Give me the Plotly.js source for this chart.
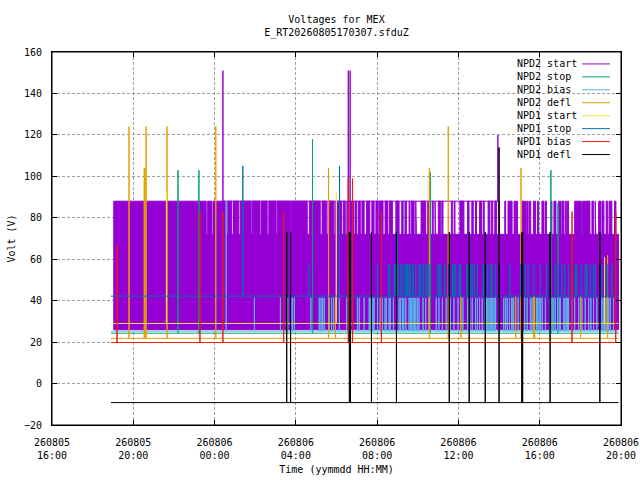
<!DOCTYPE html>
<html>
<head>
<meta charset="utf-8">
<script src="https://cdn.plot.ly/plotly-3.0.1.min.js"></script>
<style>
  html, body { margin: 0; padding: 0; background: #fff; }
  #plot { width: 640px; height: 480px; }
</style>
</head>
<body>
<div id="plot"></div>
<script>
// times are hours counted from 2026-08-05 00:00
var dataStart = 18.90;
var dataEnd = 43.88;

var seriesNames = ['NPD2 start', 'NPD2 stop', 'NPD2 bias', 'NPD2 defl',
                   'NPD1 start', 'NPD1 stop', 'NPD1 bias', 'NPD1 defl'];
var seriesColors = ['#9400d3', '#009e73', '#56b4e9', '#e69f00',
                    '#f0e442', '#0072b2', '#e51e10', '#000000'];

// NPD2 start: dense band, low 26, mostly up to 72, up to 88 in these intervals
var npd2StartBand = {start: 19.04, low: 26, mid: 72, high: 88};
var npd2StartHigh = [
  [19.04,23.59],[23.66,23.85],[23.92,24.57],[24.65,24.85],[24.93,25.19],[25.26,25.80],
  [25.85,26.24],[26.31,26.59],[26.67,27.03],[27.09,27.75],[27.79,28.56],[28.66,29.20],
  [29.29,29.50],[29.58,29.86],[29.92,30.05],[30.10,30.25],[30.33,30.43],[30.51,30.63],
  [30.69,30.84],[30.91,31.00],[31.08,31.17],[31.25,31.36],[31.48,31.64],[31.74,31.85],
  [31.94,32.05],[32.10,32.29],[32.39,32.51],[32.59,32.75],[32.92,33.08],[33.21,33.28],
  [33.37,33.44],[33.57,33.61],[33.68,33.82],[33.90,33.93],[34.16,34.39],[34.49,34.62],
  [34.71,34.76],[34.85,34.88],[35.01,35.11],[35.18,35.24],[35.65,35.70],[35.79,35.83],
  [36.07,36.27],[36.45,36.52],[36.66,36.73],[36.84,36.89],[37.04,37.14],[37.22,37.27],
  [37.46,37.53],[37.61,37.69],[37.79,37.88],[37.99,38.02],[38.28,38.32],[38.44,38.64],
  [38.74,38.81],[38.86,38.91],[39.13,39.30],[39.36,39.43],[39.49,39.56],[39.69,39.79],
  [39.89,39.95],[40.11,40.21],[40.28,40.33],[40.54,40.60],[40.70,40.80],[40.93,41.05],
  [41.10,41.19],[41.26,41.31],[41.36,41.42],[41.72,42.05],[42.11,42.24],[42.27,42.47],
  [42.57,42.64],[42.73,42.76],[42.90,42.99],[43.06,43.16],[43.27,43.35],[43.42,43.55],
  [43.68,43.75]
];
var npd2StartSpikes = [[24.41,151],[30.58,151],[30.67,151],[37.94,120]];

var npd2StopBase = 24.3;
var npd2StopSpikes = [[22.20,103],[23.23,103],[28.82,118],[34.61,102],[40.55,103],[40.90,87]];

var npd2BiasBase = 25.3;
var npd2BiasSpikes = [[24.57,88]];
var npd2BiasStepLevel = 41.4;
var npd2BiasSteps = [
  25.96,27.24,27.60,27.76,27.84,27.93,28.74,29.15,29.24,29.32,29.40,29.64,29.76,29.86,
  30.14,30.50,30.66,31.03,31.12,31.36,31.61,31.67,31.74,31.80,31.85,32.02,32.15,32.21,
  32.26,32.39,32.46,32.59,32.65,32.80,32.95,33.08,33.15,33.24,33.31,33.41,33.57,33.64,
  33.70,33.77,33.83,33.90,33.98,34.06,34.26,34.39,34.55,34.91,35.04,35.21,35.40,35.60,
  35.78,35.98,36.11,36.22,36.45,36.52,36.56,36.68,36.84,36.93,37.04,37.17,37.30,37.37,
  37.42,37.50,37.56,37.63,37.69,37.76,37.83,37.99,38.23,38.32,38.40,38.51,38.61,38.68,
  38.72,38.94,39.26,39.38,39.54,39.62,39.69,39.74,39.84,39.90,39.97,40.03,40.12,40.28,
  40.48,40.61,40.69,40.77,40.88,40.97,41.02,41.18,41.24,41.31,41.38,41.42,41.59,41.72,
  41.92,42.08,42.24,42.41,42.52,42.65,42.81,43.06,43.13,43.19,43.26,43.32,43.39,43.47,
  43.63
];

var npd2DeflBase = 21.8;
var npd2DeflSpikes = [
  [19.79,124],[20.54,104],[20.58,104],[20.63,124],[21.66,124],[24.06,124],[29.61,104],
  [29.95,42],[34.57,104],[35.50,124],[36.12,42],[38.82,42],[39.08,104],[39.71,42],
  [39.75,42],[42.01,42],[43.34,62]
];

var npd1StartBase = 29.0;
var npd1StartSpikes = [[21.63,92],[29.99,92],[43.19,61]];

var npd1StopBase = 42.2;
var npd1StopSpikes = [[25.39,105],[28.63,57.5],[30.15,105],[33.00,73]];
var npd1StopStepLevel = 57.5;
var npd1StopSteps = [
  32.02,32.56,32.62,32.84,32.92,33.05,33.16,33.24,33.37,33.44,33.49,33.57,33.65,33.77,
  33.90,34.06,34.14,34.27,34.39,34.47,34.55,34.99,35.06,35.13,35.34,35.53,35.70,35.78,
  35.86,36.03,36.11,36.40,36.47,36.52,36.60,36.68,36.79,36.93,37.22,37.29,37.33,37.45,
  37.58,37.66,37.83,37.99,38.53,39.05,39.13,39.30,39.43,39.71,40.03,40.33,40.52,40.77,
  40.90,41.10,41.23,41.42,41.75,41.83,42.05,42.24,42.32,42.49,42.65,42.73,43.06,43.31,
  43.55
];

var npd1BiasBase = 19.8;
var npd1BiasSpikes = [
  [19.20,67],[23.28,83],[24.41,83],[27.40,83],[30.58,99],[30.62,42],[30.66,42],
  [30.79,99],[32.21,83],[41.59,83],[43.74,83]
];

var npd1DeflBase = -9.2;
var npd1DeflSpikes = [
  [27.55,73],[27.74,73],[30.63,73],[30.66,73],[30.69,73],[31.72,73],[32.95,73],
  [35.55,73],[36.53,73],[37.32,73],[38.00,114],[39.12,73],[39.16,73],[40.51,73],[42.96,73]
];

var monoFont = 'DejaVu Sans Mono, Liberation Mono, monospace';


function toDate(h)
{
    var ms = Date.UTC(2026, 7, 5) + Math.round(h * 3600000);
    return new Date(ms).toISOString().replace('T', ' ').slice(0, 19);
}

// a flat baseline with vertical excursions at the given times
function spikeTrace(name, color, base, spikes)
{
    var pts = spikes.slice().sort((a, b) => a[0] - b[0]);
    var x = [toDate(dataStart)], y = [base];
    pts.forEach(([h, v]) => {
        x.push(toDate(h), toDate(h), toDate(h));
        y.push(base, v, base);
    });
    x.push(toDate(dataEnd));
    y.push(base);
    return {
        type: 'scatter', mode: 'lines', name: name, x: x, y: y,
        line: {color: color, width: 1}, hoverinfo: 'skip', showlegend: false,
    };
}

function bandTrace(name, color, band, highs)
{
    var x = [toDate(band.start)], y = [band.low];
    highs.forEach(([a, b]) => {
        x.push(toDate(a), toDate(a), toDate(b), toDate(b));
        y.push(band.mid, band.high, band.high, band.mid);
    });
    x.push(toDate(dataEnd), toDate(dataEnd), toDate(band.start));
    y.push(band.mid, band.low, band.low);
    return {
        type: 'scatter', mode: 'lines', name: name, x: x, y: y,
        fill: 'toself', fillcolor: color,
        line: {color: color, width: 1}, hoverinfo: 'skip', showlegend: false,
    };
}

var stepsAt = (times, level) => times.map(t => [t, level]);

var traces = [];
traces.push( bandTrace(seriesNames[0], seriesColors[0], npd2StartBand, npd2StartHigh) );
traces.push( spikeTrace(seriesNames[0], seriesColors[0], npd2StartBand.high, npd2StartSpikes) );
traces.push( spikeTrace(seriesNames[1], seriesColors[1], npd2StopBase, npd2StopSpikes) );
traces.push( spikeTrace(seriesNames[2], seriesColors[2], npd2BiasBase,
             npd2BiasSpikes.concat(stepsAt(npd2BiasSteps, npd2BiasStepLevel))) );
traces.push( spikeTrace(seriesNames[3], seriesColors[3], npd2DeflBase, npd2DeflSpikes) );
traces.push( spikeTrace(seriesNames[4], seriesColors[4], npd1StartBase, npd1StartSpikes) );
traces.push( spikeTrace(seriesNames[5], seriesColors[5], npd1StopBase,
             npd1StopSpikes.concat(stepsAt(npd1StopSteps, npd1StopStepLevel))) );
traces.push( spikeTrace(seriesNames[6], seriesColors[6], npd1BiasBase, npd1BiasSpikes) );
traces.push( spikeTrace(seriesNames[7], seriesColors[7], npd1DeflBase, npd1DeflSpikes) );
// the purple spikes sit on the band top, drop the flat part of that helper trace
traces[1].y = traces[1].y.map((v, i) => (v === npd2StartBand.high && (i === 0 || i === traces[1].y.length - 1)) ? null : v);

// empty trace that carries the overlay axes used for the inward tick marks
traces.push({type: 'scatter', mode: 'lines', x: [], y: [], xaxis: 'x2', yaxis: 'y2',
             hoverinfo: 'skip', showlegend: false});


// gnuplot style key: text on the left, line sample on the right, opaque box
var keyTop = 0.968, keyStep = 0.0347;
var annotations = [], shapes = [];
shapes.push({type: 'rect', xref: 'paper', yref: 'paper', layer: 'between',
             x0: 0.803, x1: 0.99, y0: 0.712, y1: 0.988,
             fillcolor: '#ffffff', line: {width: 0}});
seriesNames.forEach((name, i) => {
    var yy = keyTop - i * keyStep;
    annotations.push({xref: 'paper', yref: 'paper', x: 0.8137, y: yy,
                      xanchor: 'left', yanchor: 'middle', showarrow: false,
                      text: name, font: {family: monoFont, size: 10, color: '#000'}});
    shapes.push({type: 'line', xref: 'paper', yref: 'paper',
                 x0: 0.9315, x1: 0.9807, y0: yy, y1: yy,
                 line: {color: seriesColors[i], width: 1}});
});
// plot frame
shapes.push({type: 'rect', xref: 'paper', yref: 'paper', layer: 'above',
             x0: 0, x1: 1, y0: 0, y1: 1, line: {color: '#000', width: 1}});

var xRange = [toDate(16), toDate(44)];
var yRange = [-20, 160];
var fourHours = 4 * 3600000;

// labelled axes: the (invisible) outside ticks only push the labels away
var axisCommon = {
    showline: true, linecolor: '#000', linewidth: 1, mirror: true,
    ticks: 'outside', tickcolor: 'rgba(0,0,0,0)',
    showgrid: true, gridcolor: '#a0a0a0', gridwidth: 1, griddash: '3px,2px',
    zeroline: false,
    tickfont: {family: monoFont, size: 10, color: '#000'},
};

// unlabelled overlay axes that draw the tick marks inside the frame, on all sides
var tickAxis = {
    ticks: 'inside', ticklen: 5, tickcolor: '#000', mirror: 'ticks',
    showline: false, showgrid: false, zeroline: false, showticklabels: false,
};

var layout = {
    width: 640, height: 480,
    margin: {l: 52, r: 19, t: 52, b: 55},
    paper_bgcolor: '#ffffff', plot_bgcolor: '#ffffff',
    showlegend: false,
    font: {family: monoFont, size: 10, color: '#000'},
    title: {
        text: 'Voltages for MEX<br>E_RT20260805170307.sfduZ',
        x: 0.5, xref: 'paper', y: 0.953, yref: 'container', yanchor: 'top',
        font: {family: monoFont, size: 10, color: '#000'},
    },
    xaxis: Object.assign({}, axisCommon, {
        type: 'date', range: xRange,
        tick0: toDate(16), dtick: fourHours,
        tickformat: '%y%m%d<br>%H:%M',
        ticklen: 8,
        title: {text: 'Time (yymmdd HH:MM)', standoff: 5,
                font: {family: monoFont, size: 10, color: '#000'}},
    }),
    yaxis: Object.assign({}, axisCommon, {
        range: yRange, dtick: 20,
        ticklen: 7,
        title: {text: 'Volt (V)', standoff: 6,
                font: {family: monoFont, size: 10, color: '#000'}},
    }),
    xaxis2: Object.assign({}, tickAxis, {
        type: 'date', range: xRange, tick0: toDate(16), dtick: fourHours,
        overlaying: 'x', anchor: 'y2', side: 'bottom',
    }),
    yaxis2: Object.assign({}, tickAxis, {
        range: yRange, dtick: 20,
        overlaying: 'y', anchor: 'x2', side: 'left',
    }),
    annotations: annotations,
    shapes: shapes,
};

var config = {staticPlot: true, displayModeBar: false};

Plotly.newPlot(document.getElementById('plot'), traces, layout, config);
</script>
</body>
</html>
